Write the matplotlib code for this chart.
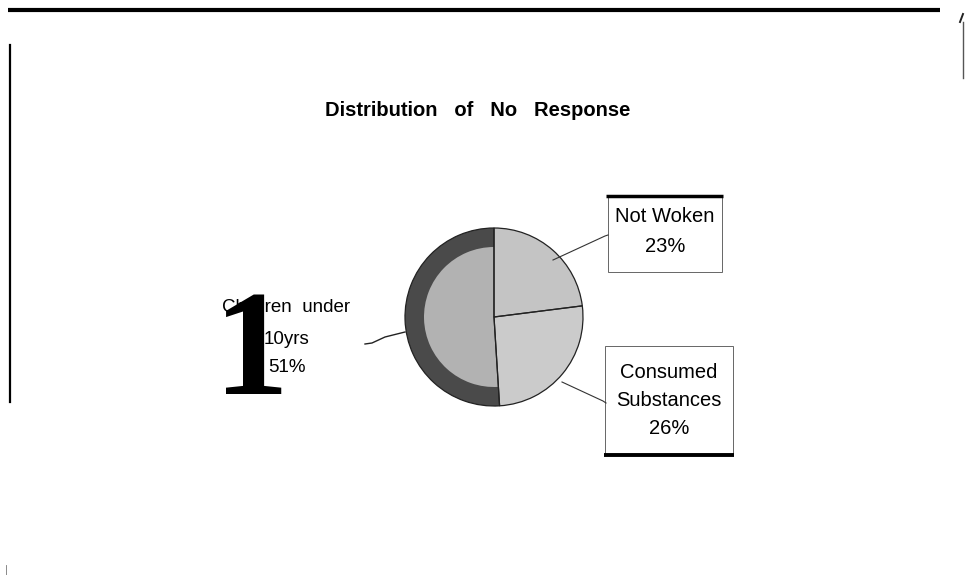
import matplotlib.pyplot as plt
from matplotlib.patches import Rectangle

# slice data, clockwise from 12 o'clock
labels = ['Not Woken', 'Consumed Substances', 'Children under 10yrs']
shares = [23, 26, 51]
outer_colors = ['#c4c4c4', '#cbcbcb', '#4a4a4a']
inner_colors = ['#c4c4c4', '#cbcbcb', '#b2b2b2']

W, H = 966, 575
fig = plt.figure(figsize=(W / 100, H / 100), dpi=100)
ax = fig.add_axes([0, 0, 1, 1])


def Y(y):
    # image row -> axes y
    return H - y


cx, cy, r = 494, Y(317), 89
# outer pie (dark rim on the large slice) + inner pie on top
ax.pie(shares, colors=outer_colors, startangle=90, counterclock=False,
       center=(cx, cy), radius=r, frame=True,
       wedgeprops=dict(edgecolor='none', linewidth=0))
ax.pie(shares, colors=inner_colors, startangle=90, counterclock=False,
       center=(cx, cy), radius=r - 19, frame=True,
       wedgeprops=dict(edgecolor='none', linewidth=0))
ax.pie(shares, colors=['none'] * 3, startangle=90, counterclock=False,
       center=(cx, cy), radius=r, frame=True,
       wedgeprops=dict(edgecolor='#222222', linewidth=0.9, fill=False))
ax.set_xlim(0, W)
ax.set_ylim(0, H)
ax.set_aspect('auto')
ax.axis('off')

font = 'Liberation Sans'

# title
ax.text(478, Y(110), 'Distribution   of   No   Response', ha='center', va='center',
        fontsize=14.5, fontweight='bold', family=font)

# Not Woken label box
ax.add_patch(Rectangle((608, Y(272)), 114, 76, fill=False, edgecolor='#666666', lw=0.7))
ax.plot([606, 723], [Y(196), Y(196)], color='black', lw=2.5, solid_capstyle='butt')
ax.text(665, Y(217), 'Not Woken', ha='center', va='center', fontsize=14.5, family=font)
ax.text(665, Y(246), '23%', ha='center', va='center', fontsize=14.5, family=font)
ax.plot([553, 605, 608], [Y(260), Y(236), Y(235)], color='#333333', lw=0.8)

# Consumed Substances label box
ax.add_patch(Rectangle((605, Y(455)), 128, 109, fill=False, edgecolor='#666666', lw=0.7))
ax.plot([604, 734], [Y(455), Y(455)], color='black', lw=2.8, solid_capstyle='butt')
ax.text(669, Y(373), 'Consumed', ha='center', va='center', fontsize=14.5, family=font)
ax.text(669, Y(400), 'Substances', ha='center', va='center', fontsize=14.5, family=font)
ax.text(669, Y(428), '26%', ha='center', va='center', fontsize=14.5, family=font)
ax.plot([562, 603, 606], [Y(382), Y(401), Y(403)], color='#333333', lw=0.8)

# Children label (no box)
ax.text(222, Y(308), 'Children  under', ha='left', va='center', fontsize=13.5, family=font)
ax.text(264, Y(340), '10yrs', ha='left', va='center', fontsize=13.5, family=font)
ax.text(268, Y(368), '51%', ha='left', va='center', fontsize=13.5, family=font)
ax.plot([365, 372, 385, 405], [Y(344), Y(343), Y(337), Y(332)], color='#222222', lw=1.0)

# big scanned numeral over the label
ax.text(252, Y(394), '1', ha='center', va='baseline', fontsize=108,
        family='Liberation Serif', fontweight='bold', color='black')

# page decorations from the scan
ax.plot([8, 940], [Y(10), Y(10)], color='black', lw=3, solid_capstyle='butt')
ax.plot([10, 10], [Y(45), Y(402)], color='black', lw=1.6)
ax.plot([963, 963], [Y(22), Y(78)], color='#555555', lw=1.0)
ax.plot([960, 963], [Y(22), Y(14)], color='#222222', lw=1.4)
ax.plot([6, 6], [Y(565), Y(575)], color='#777777', lw=0.6)

fig.savefig('out.png', dpi=100)
